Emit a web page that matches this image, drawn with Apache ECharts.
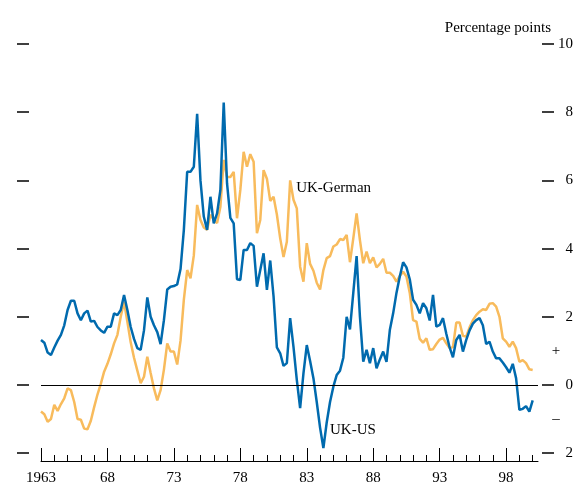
<!DOCTYPE html>
<html>
<head>
<meta charset="utf-8">
<script src="https://cdn.jsdelivr.net/npm/echarts@6/dist/echarts.min.js"></script>
<style>
html, body { margin: 0; padding: 0; background: #fff; }
#chart { width: 576px; height: 486px; }
</style>
</head>
<body>
<div id="chart"></div>
<script>
// quarterly data, 1963 Q1 .. 2000 Q1
var startYear = 1963;
var majorTickYears = [1963, 1968, 1973, 1978, 1983, 1988, 1993, 1998];
var minorTickYears = [1963, 1964, 1965, 1966, 1967, 1968, 1969, 1970, 1971, 1972,
  1973, 1974, 1975, 1976, 1977, 1978, 1979, 1980, 1981, 1982, 1983, 1984, 1985,
  1986, 1987, 1988, 1989, 1990, 1991, 1992, 1993, 1994, 1995, 1996, 1997, 1998,
  1999, 2000];
var valueTicks = [-2, 0, 2, 4, 6, 8, 10];
var signTicks = [1, -1];

var ukUs = [
  1.32, 1.24, 0.95, 0.88, 1.10, 1.30, 1.47, 1.75, 2.20, 2.47,
  2.47, 2.10, 1.90, 2.10, 2.18, 1.86, 1.88, 1.70, 1.60, 1.53,
  1.71, 1.71, 2.10, 2.05, 2.20, 2.64, 2.20, 1.70, 1.35, 1.08,
  1.03, 1.60, 2.57, 2.00, 1.75, 1.55, 1.20, 1.90, 2.80, 2.88,
  2.90, 2.95, 3.40, 4.55, 6.25, 6.25, 6.40, 7.95, 6.00, 4.94,
  4.55, 5.52, 4.74, 5.03, 5.72, 8.28, 5.91, 4.90, 4.74, 3.10,
  3.08, 3.96, 3.96, 4.16, 4.08, 2.88, 3.37, 3.86, 2.79, 3.65,
  2.60, 1.10, 0.93, 0.56, 0.64, 1.96, 1.12, 0.15, -0.68, 0.34,
  1.17, 0.70, 0.20, -0.50, -1.25, -1.85, -1.10, -0.50, -0.05, 0.29,
  0.42, 0.80, 2.00, 1.63, 2.70, 3.78, 2.00, 0.68, 1.03, 0.64,
  1.08, 0.49, 0.75, 0.98, 0.68, 1.61, 2.10, 2.70, 3.18, 3.60,
  3.45, 3.10, 2.50, 2.35, 2.10, 2.40, 2.25, 1.89, 2.64, 1.71,
  1.76, 1.96, 1.50, 1.10, 0.81, 1.32, 1.47, 0.98, 1.32, 1.60,
  1.80, 1.90, 1.96, 1.75, 1.20, 1.27, 0.98, 0.78, 0.78, 0.66,
  0.52, 0.36, 0.62, 0.20, -0.73, -0.70, -0.62, -0.78, -0.45
];

var ukGerman = [
  -0.78, -0.86, -1.08, -1.00, -0.58, -0.76, -0.56, -0.39, -0.10, -0.15,
  -0.50, -1.00, -1.02, -1.28, -1.30, -1.05, -0.65, -0.28, 0.03, 0.39,
  0.62, 0.90, 1.22, 1.47, 2.00, 2.44, 1.85, 1.25, 0.80, 0.42,
  0.05, 0.24, 0.83, 0.35, -0.10, -0.45, -0.15, 0.45, 1.22, 0.98,
  0.98, 0.60, 1.30, 2.50, 3.37, 3.13, 3.80, 5.28, 4.84, 4.62,
  4.55, 4.99, 4.85, 4.75, 5.23, 6.60, 6.10, 6.10, 6.25, 4.89,
  5.72, 6.84, 6.40, 6.77, 6.55, 4.45, 4.84, 6.30, 6.05, 5.40,
  5.52, 5.00, 4.30, 3.75, 4.20, 6.00, 5.43, 5.18, 3.47, 3.03,
  4.16, 3.55, 3.35, 3.00, 2.80, 3.37, 3.72, 3.78, 4.06, 4.12,
  4.28, 4.25, 4.40, 3.60, 4.30, 5.03, 4.25, 3.57, 3.91, 3.57,
  3.74, 3.45, 3.55, 3.70, 3.29, 3.29, 3.20, 3.03, 3.20, 3.32,
  3.18, 2.70, 1.90, 1.86, 1.35, 1.24, 1.37, 1.03, 1.05, 1.20,
  1.33, 1.38, 1.22, 1.08, 1.11, 1.83, 1.83, 1.44, 1.42, 1.69,
  1.90, 2.05, 2.15, 2.22, 2.20, 2.38, 2.40, 2.30, 2.00, 1.37,
  1.27, 1.12, 1.27, 1.08, 0.68, 0.73, 0.64, 0.46, 0.44
];

var years = ukUs.map(function (v, i) { return startYear + i / 4; });
function toPairs(vals) {
  return vals.map(function (v, i) { return [years[i], v]; });
}

var serif = '"Liberation Serif", "DejaVu Serif", serif';
var yMin = -2.23, yMax = 10;
var xMin = 1963, xMax = 2000.4;

var chart = echarts.init(document.getElementById('chart'));
chart.setOption({
  animation: false,
  title: {
    text: 'Percentage points',
    right: 20,
    top: 16,
    textStyle: { fontFamily: serif, fontSize: 15, fontWeight: 'normal', color: '#000' }
  },
  grid: { left: 41, right: 37, top: 44, bottom: 25 },
  xAxis: [
    {
      type: 'value', min: xMin, max: xMax, position: 'bottom',
      axisLine: { show: true, onZero: false, lineStyle: { color: '#000', width: 1 } },
      axisTick: { show: true, inside: true, length: 13, customValues: majorTickYears,
        lineStyle: { color: '#000', width: 1 } },
      axisLabel: {
        customValues: majorTickYears, color: '#000', fontFamily: serif, fontSize: 15, margin: 10,
        formatter: function (v) { return v === 1963 ? '1963' : String(v % 100); }
      },
      splitLine: { show: false }
    },
    {
      type: 'value', min: xMin, max: xMax, position: 'bottom',
      axisLine: { show: false, onZero: false },
      axisTick: { show: true, inside: true, length: 6, customValues: minorTickYears,
        lineStyle: { color: '#000', width: 1 } },
      axisLabel: { show: false },
      splitLine: { show: false }
    }
  ],
  yAxis: [
    {
      type: 'value', min: yMin, max: yMax, position: 'left', offset: 12,
      axisLine: { show: false, onZero: false },
      axisTick: { show: true, length: 12, customValues: valueTicks,
        lineStyle: { color: '#000', width: 1.5 } },
      axisLabel: { show: false },
      splitLine: { show: false }
    },
    {
      type: 'value', min: yMin, max: yMax, position: 'right', offset: 4,
      axisLine: { show: false, onZero: false },
      axisTick: { show: true, length: 12, customValues: valueTicks,
        lineStyle: { color: '#000', width: 1.5 } },
      axisLabel: {
        customValues: valueTicks, align: 'right', margin: 31,
        color: '#000', fontFamily: serif, fontSize: 15,
        formatter: function (v) { return String(Math.abs(v)); }
      },
      splitLine: { show: false }
    },
    {
      type: 'value', min: yMin, max: yMax, position: 'right', offset: 4,
      axisLine: { show: false, onZero: false },
      axisTick: { show: false },
      axisLabel: {
        customValues: signTicks, align: 'center', margin: 14,
        color: '#000', fontFamily: serif, fontSize: 15,
        formatter: function (v) { return v > 0 ? '+' : '\u2013'; }
      },
      splitLine: { show: false }
    }
  ],
  series: [
    {
      name: 'UK-German', type: 'line', xAxisIndex: 0, yAxisIndex: 1,
      data: toPairs(ukGerman), showSymbol: false, symbol: 'none',
      lineStyle: { color: '#f8bb5c', width: 2.5 },
      markLine: {
        silent: true, symbol: 'none', label: { show: false },
        lineStyle: { color: '#000', width: 1, type: 'solid' },
        data: [{ yAxis: 0 }]
      },
      markPoint: {
        symbol: 'circle', symbolSize: 0,
        label: { show: true, position: 'right', distance: 0, formatter: 'UK-German',
          color: '#000', fontFamily: serif, fontSize: 15 },
        data: [{ coord: [1982.2, 5.78] }]
      }
    },
    {
      name: 'UK-US', type: 'line', xAxisIndex: 0, yAxisIndex: 1,
      data: toPairs(ukUs), showSymbol: false, symbol: 'none',
      lineStyle: { color: '#006aae', width: 2.5 },
      markPoint: {
        symbol: 'circle', symbolSize: 0,
        label: { show: true, position: 'right', distance: 0, formatter: 'UK-US',
          color: '#000', fontFamily: serif, fontSize: 15 },
        data: [{ coord: [1984.75, -1.32] }]
      }
    }
  ]
});
</script>
</body>
</html>
